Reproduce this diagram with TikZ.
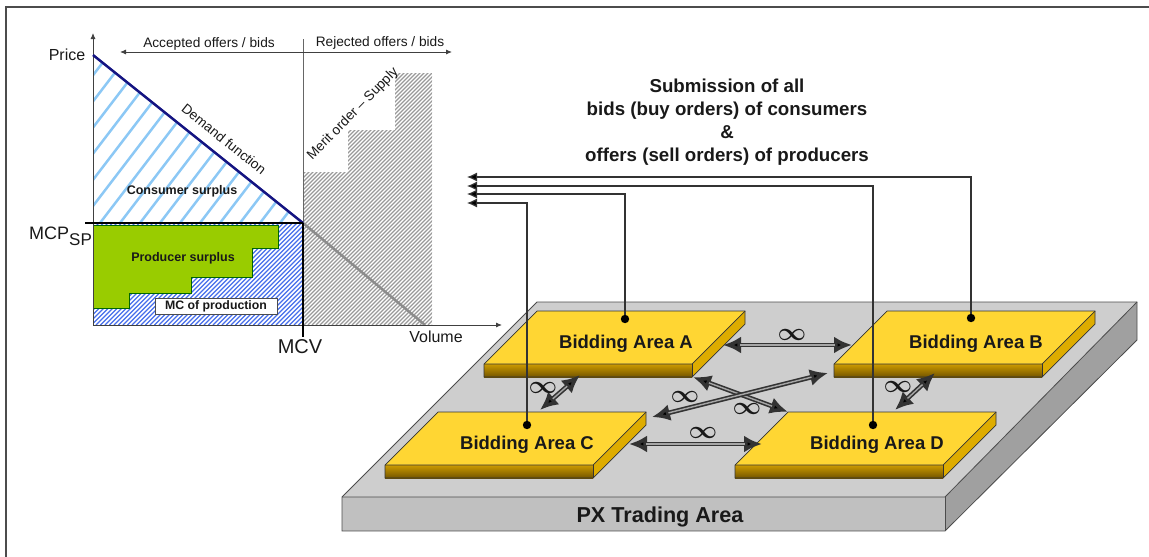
\documentclass[tikz,border=0pt]{standalone}
\usepackage{fontspec}
\setmainfont{Liberation Sans}
\usetikzlibrary{arrows.meta}
\definecolor{demand}{RGB}{20,20,130}
\definecolor{lblue}{RGB}{140,200,245}
\definecolor{hblue}{RGB}{70,110,235}
\definecolor{greenps}{RGB}{153,204,0}
\definecolor{ptop}{RGB}{206,206,206}
\definecolor{pfront}{RGB}{192,192,192}
\definecolor{pside}{RGB}{160,160,160}
\definecolor{ytop}{RGB}{255,214,51}
\definecolor{yside}{RGB}{222,172,0}
\definecolor{yfrontA}{RGB}{205,155,0}
\definecolor{yfrontB}{RGB}{115,85,0}
\definecolor{txt}{RGB}{25,25,25}
\newcommand{\yslab}[4]{%
  \fill[ytop] (#2,#3) -- ++(208,0) -- ++(-53,53) -- ++(-208,0) -- cycle;
  \shade[top color=yfrontA,bottom color=yfrontB] ({#2-53},{#3+53}) rectangle ++(208,13);
  \fill[yside] ({#2+155},{#3+53}) -- ({#2+208},#3) -- ({#2+208},{#3+13}) -- ({#2+155},{#3+66}) -- cycle;
  \draw[slabedge] (#2,#3) -- ++(208,0) -- ++(0,13) -- ++(-53,53) -- ++(-208,0) -- ++(0,-13) -- cycle;
  \draw[slabedge] ({#2-53},{#3+53}) -- ++(208,0) -- ++(53,-53);
  \draw[slabedge] ({#2+155},{#3+53}) -- ++(0,13);
  \node[bidtxt] (#1) at ({#2+89},{#3+33}) {#4};
}
\tikzset{
  slabedge/.style={draw=black!80, line width=0.7pt},
  bidtxt/.style={font=\fontsize{18.5}{18.5}\selectfont\bfseries, text=txt, inner sep=0pt},
  chartlbl/.style={font=\fontsize{13.7}{13.7}\selectfont, text=txt, inner sep=0pt},
  boldlbl/.style={font=\fontsize{12.5}{12.5}\selectfont\bfseries, text=txt, inner sep=0pt},
  axis/.style={draw=black!75, line width=0.9pt, -{Latex[length=6pt,width=5pt]}},
  bus/.style={draw=black!80, line width=1.2pt, -{Latex[length=10pt,width=9pt,fill=black]}},
  conn/.style={draw=black!80, line width=4.6pt, {Latex[length=18pt,width=17pt,fill=black]}-{Latex[length=18pt,width=17pt,fill=black]}},
  conninner/.style={draw=black!35, line width=1.4pt, shorten >=17pt, shorten <=17pt},
  inf/.style={font=\fontsize{25}{25}\selectfont\boldmath, text=txt, inner sep=0pt},
}
\begin{document}
\begin{tikzpicture}[x=1pt,y=-1pt]
\useasboundingbox (0,0) rectangle (1149,557);
% frame
\draw[black!70, line width=2pt] (6,557) -- (6,7) -- (1149,7);

% ---------------- chart ----------------
% consumer surplus hatch
\begin{scope}
  \clip (93,55) -- (303,223) -- (93,223) -- cycle;
  \foreach \k in {0,...,20} \draw[lblue, line width=2.5pt] ({-40+20*\k},223) -- ++(130,-170);
\end{scope}
% MC of production hatch
\begin{scope}
  \clip (93,223) rectangle (303,325);
  \foreach \k in {0,...,72} \draw[hblue, line width=1.2pt] ({-12+4.5*\k},325) -- ++(110,-110);
\end{scope}
% supply hatch
\begin{scope}
  \clip (303,325) -- (303,172) -- (348,172) -- (348,130) -- (395,130) -- (395,73) -- (432,73) -- (432,325) -- cycle;
  \foreach \k in {0,...,97} \draw[black!40, line width=1.1pt] ({48+4*\k},325) -- ++(260,-260);
\end{scope}
% producer surplus
\fill[greenps, draw=black!60!green, line width=0.5pt] (93,225) -- (278,225) -- (278,248) -- (252,248) -- (252,277) -- (191,277) -- (191,293) -- (129,293) -- (129,308) -- (93,308) -- cycle;
% MC of production box
\node[draw=black!70, fill=white, line width=0.7pt, minimum width=122pt, minimum height=16pt, inner sep=0pt] (mcbox) at (216,306) {};
\node[boldlbl, font=\fontsize{12.3}{12.3}\selectfont\bfseries] (mclbl) at (mcbox.center) {MC of production};
\node[boldlbl] (cs) at (182,191) {Consumer surplus};
\node[boldlbl] (ps) at (183,258) {Producer surplus};

% demand continuation (gray)
\draw[black!45, line width=2.5pt] (303,223) -- (425,325);
% axes
\coordinate (origin) at (93,325);
\coordinate (ytip) at (93,33);
\coordinate (xtip) at (502,325);
\draw[axis] (origin) -- (ytip);
\draw[axis] (origin) -- (xtip);
% MCV line
\draw[black!60, line width=0.8pt] (303,39) -- (303,223);
\draw[black, line width=2pt] (303,223) -- (303,337);
% demand
\draw[demand, line width=2.5pt] (93,55) -- (303,223);
% MCP
\draw[black, line width=2.5pt] (85,223) -- (303,223);
% accepted / rejected
\coordinate (mid) at (303,52);
\coordinate (accL) at (120,52);
\coordinate (rejR) at (452,52);
\draw[axis] (mid) -- (accL);
\draw[axis] (mid) -- (rejR);
\node[chartlbl] (acc) at (209,44) {Accepted offers / bids};
\node[chartlbl] (rej) at (380,43) {Rejected offers / bids};
\node[chartlbl, font=\fontsize{16}{16}\selectfont] (price) at (67,55) {Price};
\node[chartlbl, font=\fontsize{16}{16}\selectfont] (vol) at (436,337) {Volume};
\node[chartlbl, font=\fontsize{20}{20}\selectfont] (mcv) at (300,347) {MCV};
\node[chartlbl, anchor=base west] (mcp) at (29,239) {{\fontsize{18}{18}\selectfont MCP}{\fontsize{17}{17}\selectfont\raisebox{-6.5pt}{SP}}};
\node[chartlbl, rotate=-38.7] (dem) at (224,139) {Demand function};
\node[chartlbl, rotate=45.5] (merit) at (353,114) {Merit order -- Supply};

% ---------------- title ----------------
\node[align=center, font=\fontsize{18.7}{23}\selectfont\bfseries, text=txt, inner sep=0pt] (title) at (727,122.5)
  {Submission of all\\bids (buy orders) of consumers\\\&\\offers (sell orders) of producers};

% ---------------- platform ----------------
\fill[ptop] (537,302) -- (1137,302) -- (945,497) -- (342,497) -- cycle;
\fill[pfront] (342,497) rectangle (945,531);
\fill[pside] (945,497) -- (1137,302) -- (1137,340) -- (945,531) -- cycle;
\draw[black!70, line width=0.8pt] (537,302) -- (1137,302) -- (1137,340) -- (945,531) -- (342,531) -- (342,497) -- cycle;
\draw[black!70, line width=0.8pt] (342,497) -- (945,497) -- (1137,302);
\draw[black!70, line width=0.8pt] (945,497) -- (945,531);
\node[font=\fontsize{21.6}{21.6}\selectfont\bfseries, text=txt, inner sep=0pt] (px) at (660,517) {PX Trading Area};

% ---------------- slabs ----------------
\yslab{bA}{537}{311}{Bidding Area A}
\yslab{bB}{887}{311}{Bidding Area B}
\yslab{bC}{438}{412}{Bidding Area C}
\yslab{bD}{788}{412}{Bidding Area D}

% ---------------- interconnectors ----------------
\coordinate (ab1) at (723,345); \coordinate (ab2) at (852,345);
\coordinate (cd1) at (629,444); \coordinate (cd2) at (762,444);
\coordinate (ad1) at (693,377); \coordinate (ad2) at (788,412);
\coordinate (cb1) at (652,417); \coordinate (cb2) at (828,373);
\coordinate (ac1) at (540,410); \coordinate (ac2) at (580,375);
\coordinate (bd1) at (895,410); \coordinate (bd2) at (935,373);
\foreach \p/\q in {ab1/ab2, cd1/cd2, ad1/ad2, cb1/cb2, ac1/ac2, bd1/bd2} {
  \draw[conn] (\p) -- (\q);
  \draw[conninner] (\p) -- (\q);
}
\node[inf] (i1) at (792,335) {$\infty$};
\node[inf] (i2) at (703,433) {$\infty$};
\node[inf] (i3) at (747,409) {$\infty$};
\node[inf] (i4) at (685,397) {$\infty$};
\node[inf] (i5) at (543,388) {$\infty$};
\node[inf] (i6) at (898,387) {$\infty$};

% ---------------- bus lines ----------------
\coordinate (dA) at (625,319); \coordinate (tA) at (467,194);
\coordinate (dB) at (971,318); \coordinate (tB) at (467,177);
\coordinate (dC) at (527,425); \coordinate (tC) at (467,203);
\coordinate (dD) at (873,425); \coordinate (tD) at (467,186);
\draw[bus] (dB) |- (tB);
\draw[bus] (dD) |- (tD);
\draw[bus] (dA) |- (tA);
\draw[bus] (dC) |- (tC);
\foreach \d in {dA,dB,dC,dD} \fill[black] (\d) circle (4.2pt);
\end{tikzpicture}
\end{document}
